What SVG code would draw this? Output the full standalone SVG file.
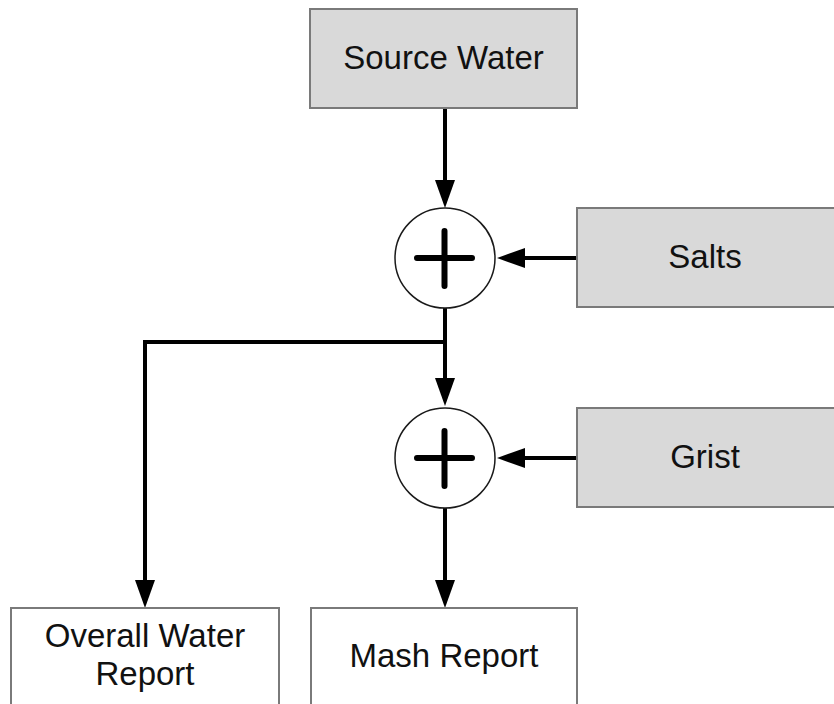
<svg xmlns="http://www.w3.org/2000/svg" width="834" height="704" viewBox="0 0 834 704">
  <style>
    .box { stroke: #7a7a7a; stroke-width: 2; }
    .input { fill: #d9d9d9; }
    .report { fill: #ffffff; }
    .label { font-family: "Liberation Sans", Arial, sans-serif; font-size: 33px; fill: #111111; text-anchor: middle; }
    .sum { fill: #ffffff; stroke: #1a1a1a; stroke-width: 1.5; }
    .plus { stroke: #000000; stroke-width: 6; stroke-linecap: round; fill: none; }
    .wire { stroke: #000000; stroke-width: 4; fill: none; }
  </style>
  <defs>
    <marker id="head" markerUnits="userSpaceOnUse" markerWidth="28" markerHeight="20" refX="0" refY="10" orient="auto" overflow="visible">
      <path d="M0,0 L28,10 L0,20 Z" fill="#000000"/>
    </marker>
  </defs>

  <rect width="834" height="704" fill="#ffffff"/>

  <g id="connectors">
    <!-- source water into first mixer -->
    <path class="wire" d="M445,108 V180" marker-end="url(#head)"/>
    <!-- salts into first mixer -->
    <path class="wire" d="M577,258 H525" marker-end="url(#head)"/>
    <!-- first mixer into second mixer -->
    <path class="wire" d="M445,308 V378" marker-end="url(#head)"/>
    <!-- branch to overall water report -->
    <path class="wire" d="M445,342 H145 V580" marker-end="url(#head)"/>
    <!-- grist into second mixer -->
    <path class="wire" d="M577,458 H525" marker-end="url(#head)"/>
    <!-- second mixer into mash report -->
    <path class="wire" d="M445,508 V580" marker-end="url(#head)"/>
  </g>

  <g id="source-water">
    <rect class="box input" x="310" y="9" width="267" height="99"/>
    <text class="label" x="443.5" y="69">Source Water</text>
  </g>

  <g id="salts">
    <rect class="box input" x="577" y="208" width="270" height="99"/>
    <text class="label" x="705" y="268">Salts</text>
  </g>

  <g id="grist">
    <rect class="box input" x="577" y="408" width="270" height="99"/>
    <text class="label" x="705" y="468">Grist</text>
  </g>

  <g id="mix-salts">
    <circle class="sum" cx="445" cy="258" r="50"/>
    <path class="plus" d="M417,258 H472 M444.5,231 V286"/>
  </g>

  <g id="mix-grist">
    <circle class="sum" cx="445" cy="458" r="50"/>
    <path class="plus" d="M417,458 H472 M444.5,431 V486"/>
  </g>

  <g id="overall-water-report">
    <rect class="box report" x="11" y="608" width="268" height="110"/>
    <text class="label" x="145" y="647">Overall Water</text>
    <text class="label" x="145" y="685">Report</text>
  </g>

  <g id="mash-report">
    <rect class="box report" x="311" y="608" width="266" height="110"/>
    <text class="label" x="444" y="667">Mash Report</text>
  </g>
</svg>
